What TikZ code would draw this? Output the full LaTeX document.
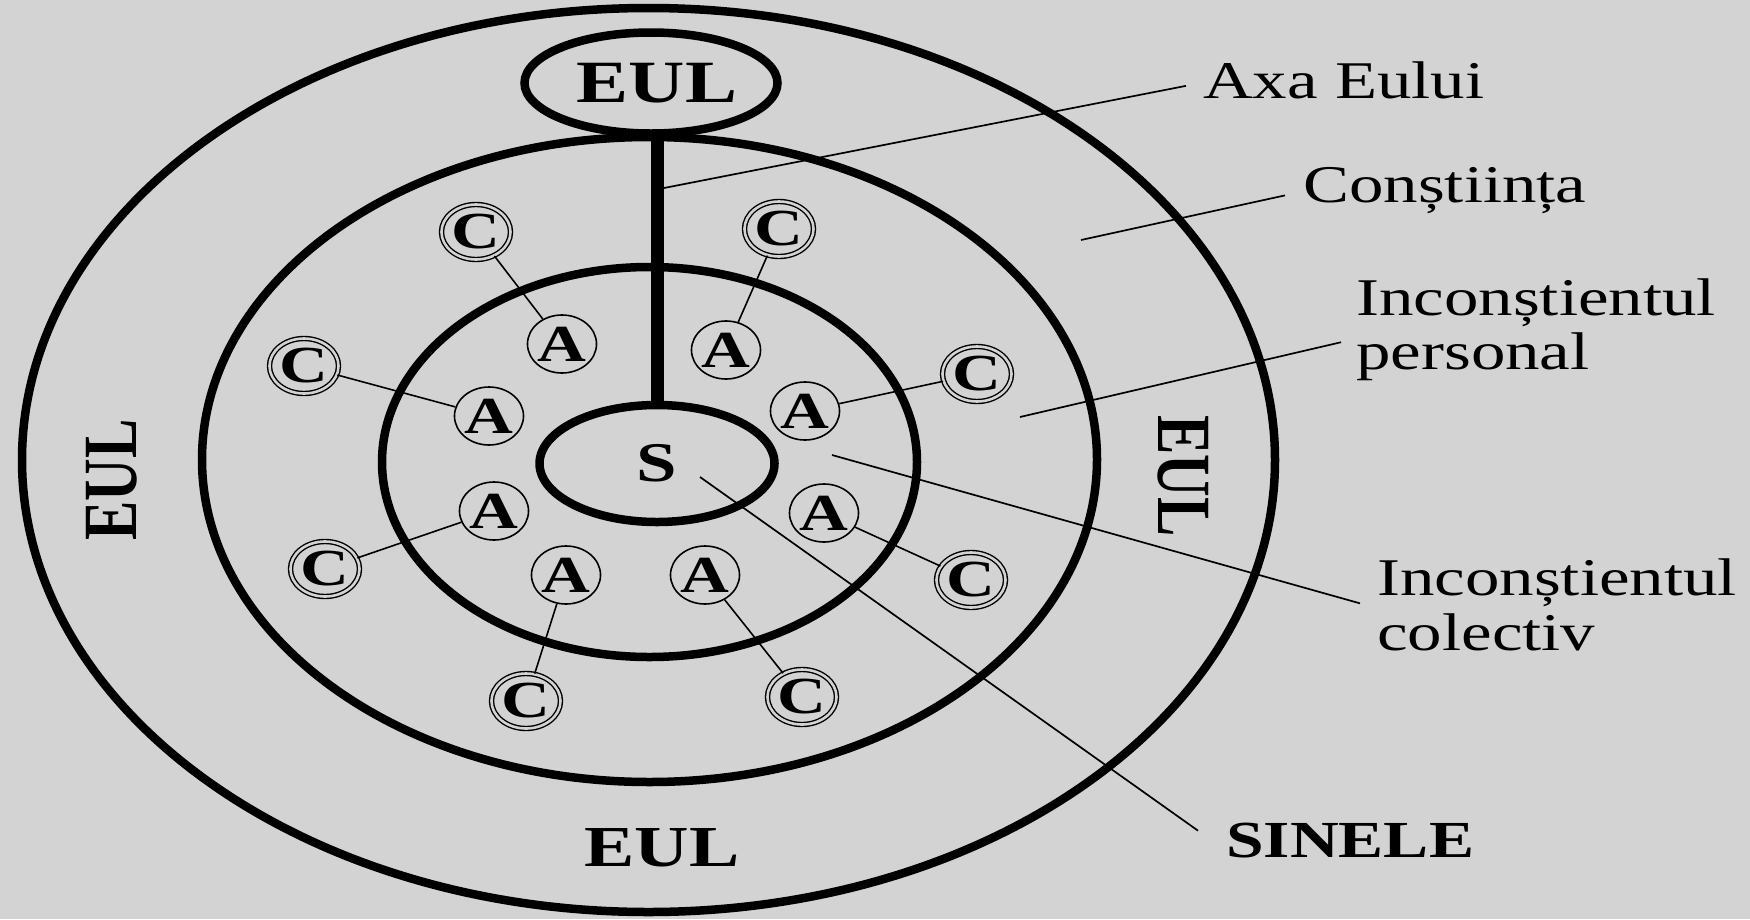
\documentclass[tikz,border=0pt]{standalone}
\usepackage{fontspec}
\setmainfont[FakeStretch=1.3]{Liberation Serif}
\newfontfamily\plainserif{Liberation Serif}
\usetikzlibrary{shapes.geometric,calc}
\definecolor{bgc}{RGB}{211,211,211}
\begin{document}
\begin{tikzpicture}[x=1pt,y=-1pt,
  zone/.style={ellipse, draw, line width=8.5pt, inner sep=0pt},
  arch/.style={ellipse, draw, line width=1.6pt, inner sep=0pt, fill=bgc,
    minimum width=64pt, minimum height=58pt,
    font=\fontsize{52}{52}\selectfont\bfseries},
  cplx/.style={arch, double=bgc, double distance=2.6pt, line width=1.4pt,
    minimum width=60pt, minimum height=55pt},
  link/.style={line width=1.6pt},
  lead/.style={line width=1.7pt},
  lbl/.style={anchor=north west, inner sep=0pt, align=left},
  big/.style={font=\fontsize{60}{60}\selectfont\bfseries},
  side/.style={inner sep=0pt, font=\plainserif\bfseries\fontsize{59}{59}\selectfont},
]
\useasboundingbox (0,0) rectangle (1750,919);
\fill[bgc] (0,0) rectangle (1750,919);

% concentric zones
\node[zone, minimum width=1253pt, minimum height=904pt] (eul) at (648.5,460) {};
\node[zone, minimum width=895pt, minimum height=645pt] (cons) at (649.5,459.5) {};
\node[zone, minimum width=535pt, minimum height=390pt] (incp) at (649.5,462) {};
\node[zone, minimum width=235pt, minimum height=117pt,
  font=\fontsize{56}{56}\selectfont\bfseries] (S) at (657,463.5) {S};
\node[zone, minimum width=253pt, minimum height=101pt, big] (eulT) at (651,83) {\hspace*{12pt}EUL};
\draw[line width=13pt] (S.north |- eulT.south) -- (S.north);

% EUL labels
\node[side, rotate=90] (eulL) at (112,480) {\scalebox{1}[1.3]{EUL}};
\node[side, rotate=-90] (eulR) at (1183,476) {\scalebox{1}[1.3]{EUL}};
\node[inner sep=0pt, font=\fontsize{58}{58}\selectfont\bfseries] (eulB) at (662,848) {EUL};

% archetypes and complexes
\node[cplx] (c1) at (476,232) {C};
\node[cplx] (c2) at (779,229) {C};
\node[cplx] (c3) at (304,366) {C};
\node[cplx] (c4) at (977,374) {C};
\node[cplx] (c5) at (325,569) {C};
\node[cplx] (c6) at (971,580) {C};
\node[cplx] (c7) at (526,701) {C};
\node[cplx] (c8) at (802,697) {C};
\node[arch] (a1) at (562,344) {A};
\node[arch] (a2) at (726,350) {A};
\node[arch] (a3) at (489,416) {A};
\node[arch] (a4) at (805,411) {A};
\node[arch] (a5) at (494,511) {A};
\node[arch] (a6) at (824,513) {A};
\node[arch] (a7) at (566,575) {A};
\node[arch] (a8) at (705,575) {A};
\foreach \i in {1,...,8} { \draw[link] (c\i) -- (a\i); }

% labels
\node[lbl, font=\fontsize{53}{54}\selectfont] (axa) at (1203,62) {Axa Eului};
\node[lbl, font=\fontsize{53}{54}\selectfont] (con) at (1303,167) {Conștiința};
\node[lbl, font=\fontsize{53}{54}\selectfont] (ip) at (1356,279) {Inconștientul\\personal};
\node[lbl, font=\fontsize{53}{55}\selectfont] (ic) at (1377,559) {Inconștientul\\colectiv};
\node[lbl, font=\fontsize{52}{52}\selectfont\bfseries] (sin) at (1226,823) {SINELE};

% leaders
\coordinate (axaS) at (664,188);
\coordinate (conS) at (1081,240);
\coordinate (ipS) at (1020,417);
\coordinate (icS) at (832,455);
\coordinate (sinS) at (700,477);
\draw[lead] (axaS) -- ($(axa.west)+(-17,5)$);
\draw[lead] (conS) -- ($(con.west)+(-18,5)$);
\draw[lead] (ipS) -- ($(ip.west)+(-15,12)$);
\draw[lead] (icS) -- ($(ic.west)+(-17,-2)$);
\draw[lead] (sinS) -- ($(sin.west)+(-28,-10)$);
\end{tikzpicture}
\end{document}
